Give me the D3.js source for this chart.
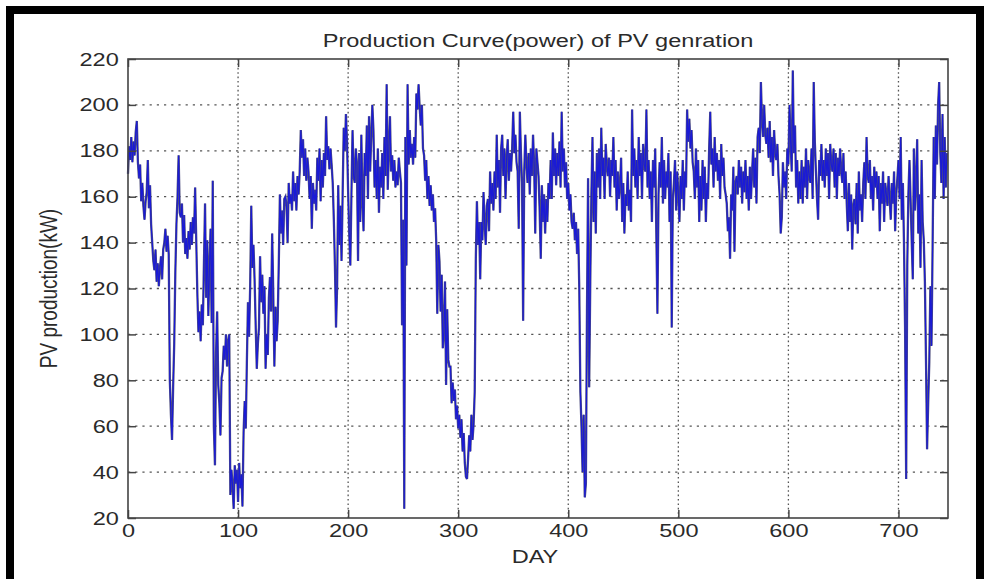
<!DOCTYPE html>
<html>
<head>
<meta charset="utf-8">
<script src="https://cdn.jsdelivr.net/npm/d3@7"></script>
<style>
  html, body { margin: 0; padding: 0; background: #fff; }
  svg { display: block; }
  text { font-family: "Liberation Sans", Arial, Helvetica, sans-serif; fill: #2a2a2a; }
</style>
</head>
<body>
<svg id="chart" width="984" height="579"></svg>
<script>
// ---------- data ----------
const titleText = "Production Curve(power) of PV genration";
const xLabel = "DAY";
const yLabel = "PV production(kW)";
const xTicks = [0, 100, 200, 300, 400, 500, 600, 700];
const yTicks = [20, 40, 60, 80, 100, 120, 140, 160, 180, 200, 220];
const xDomain = [0, 745];
const yDomain = [20, 220];

// daily PV production (kW), day 0 .. 744
const pvProduction = [
170,182,176,186,175,184,178,188,193,175,
168,174,158,166,156,150,158,162,176,155,
165,148,140,132,128,137,123,131,121,129,
134,124,137,140,146,136,143,135,80,65,
54,77,96,127,148,160,178,153,151,157,
140,152,135,142,133,145,137,149,139,151,
144,164,141,118,101,110,97,113,104,131,
157,116,141,108,129,146,105,167,60,43,
92,110,78,70,56,81,84,95,89,100,
86,97,100,30,41,34,24,43,35,41,
27,44,33,39,25,57,71,59,88,114,
99,121,156,129,139,124,104,85,96,103,
134,114,126,109,121,85,100,91,116,125,
110,144,117,86,112,97,106,131,161,144,
154,139,159,160,156,140,166,157,161,154,
171,158,166,154,169,161,171,189,177,185,
169,181,167,177,171,159,169,146,166,157,
163,154,177,167,181,158,176,164,179,169,
195,176,182,172,181,174,166,150,130,103,
121,165,139,156,132,161,190,180,196,184,
162,144,130,161,189,169,166,181,174,132,
179,149,187,159,145,179,169,191,159,195,
171,186,200,189,164,176,159,181,153,173,
164,179,159,186,169,209,163,181,195,171,
178,167,176,164,171,165,177,171,166,104,
150,24,186,130,209,174,189,177,183,174,
186,177,205,198,209,199,191,200,181,178,
167,176,159,169,156,165,154,161,149,155,
141,109,139,132,110,126,94,101,123,78,
111,89,86,86,70,79,71,76,63,69,
59,65,55,63,49,57,44,38,37,46,
56,49,65,54,61,75,133,158,139,149,
124,149,141,162,149,139,156,159,145,171,
157,166,154,171,159,187,164,176,153,181,
187,169,181,159,177,185,167,179,171,181,
197,179,187,175,171,146,197,179,166,106,
171,187,174,166,179,161,181,169,187,174,
144,181,175,169,154,133,165,149,161,144,
159,149,166,159,176,159,188,169,181,165,
179,169,184,164,197,171,181,164,175,159,
166,154,161,149,146,153,141,149,135,146,
120,75,60,40,65,29,35,110,168,77,
123,161,186,149,171,144,179,164,181,159,
190,169,177,159,183,174,169,177,160,176,
169,186,164,176,154,171,159,165,177,149,
166,144,161,156,171,154,163,149,198,169,
181,164,176,159,186,169,179,159,183,174,
171,198,164,176,159,171,149,176,164,181,
144,109,161,175,164,186,157,176,159,171,
164,179,149,171,103,159,166,176,154,171,
161,149,169,159,176,154,171,164,198,184,
194,181,189,175,171,159,181,164,176,149,
169,154,176,159,173,149,166,159,181,197,
174,181,164,186,171,179,167,176,159,183,
169,177,164,161,157,145,151,133,161,154,
173,136,166,169,161,176,164,173,157,171,
162,176,159,169,154,173,159,171,181,164,
177,157,186,190,179,210,194,186,200,187,
183,190,177,193,175,186,169,189,179,176,
183,169,161,144,151,175,164,171,159,181,
174,200,184,171,215,179,191,164,176,157,
171,159,176,157,173,164,181,159,176,169,
166,181,159,210,184,171,159,150,176,169,
183,167,176,164,181,169,179,159,183,174,
171,181,164,179,159,177,169,181,171,166,
179,159,171,157,145,166,149,161,137,156,
159,148,166,144,171,154,161,149,166,175,
159,186,169,166,176,159,169,154,173,164,
171,159,169,145,166,157,171,149,166,161,
156,169,159,150,166,157,171,145,161,168,
176,159,186,150,166,140,103,37,130,161,
176,159,141,124,181,154,166,185,144,161,
129,176,149,141,123,89,50,70,88,121,
95,138,186,159,191,174,200,210,179,166,
196,159,186,164,179
];

// ---------- layout ----------
const W = 984, H = 579;
const plot = { left: 128, right: 948, top: 59, bottom: 518 };
const sx = 1.24;           // horizontal stretch of the text in the reference
const fontSize = 19;

const svg = d3.select("#chart");

// outer black frame
svg.append("rect")
  .attr("x", 10).attr("y", 10)
  .attr("width", W - 14).attr("height", H - 6)
  .attr("fill", "#fff")
  .attr("stroke", "#000")
  .attr("stroke-width", 8);

const x = d3.scaleLinear().domain(xDomain).range([plot.left, plot.right]);
const y = d3.scaleLinear().domain(yDomain).range([plot.bottom, plot.top]);

// grid
const grid = svg.append("g").attr("class", "grid");
grid.selectAll("line.v")
  .data(xTicks.filter(d => d > xDomain[0]))
  .join("line")
  .attr("class", "v")
  .attr("x1", d => x(d)).attr("x2", d => x(d))
  .attr("y1", plot.top).attr("y2", plot.bottom)
  .attr("stroke", "#555").attr("stroke-width", 1.3)
  .attr("stroke-dasharray", "1.6,2.8");
grid.selectAll("line.h")
  .data(yTicks.filter(d => d > yDomain[0] && d < yDomain[1]))
  .join("line")
  .attr("class", "h")
  .attr("x1", plot.left).attr("x2", plot.right)
  .attr("y1", d => y(d)).attr("y2", d => y(d))
  .attr("stroke", "#555").attr("stroke-width", 1.3)
  .attr("stroke-dasharray", "2.2,5");

// data line
const line = d3.line()
  .x((d, i) => x(i))
  .y(d => y(d));

svg.append("path")
  .datum(pvProduction)
  .attr("fill", "none")
  .attr("stroke", "#4e4e7e")
  .attr("stroke-width", 2.3)
  .attr("d", line);
svg.append("path")
  .datum(pvProduction)
  .attr("fill", "none")
  .attr("stroke", "#1a1ad6")
  .attr("stroke-width", 1.1)
  .attr("d", line);

// axes (MATLAB style: ticks inward on all four sides)
const tickLen = 8;
const gx = svg.append("g")
  .attr("transform", `translate(0,${plot.bottom})`)
  .call(d3.axisBottom(x).tickValues(xTicks).tickSizeInner(-tickLen).tickSizeOuter(0).tickPadding(6));
const gxTop = svg.append("g")
  .attr("transform", `translate(0,${plot.top})`)
  .call(d3.axisTop(x).tickValues(xTicks).tickSizeInner(-tickLen).tickSizeOuter(0).tickFormat(""));
const gy = svg.append("g")
  .attr("transform", `translate(${plot.left},0)`)
  .call(d3.axisLeft(y).tickValues(yTicks).tickSizeInner(-tickLen).tickSizeOuter(0).tickPadding(7.4));
const gyRight = svg.append("g")
  .attr("transform", `translate(${plot.right},0)`)
  .call(d3.axisRight(y).tickValues(yTicks).tickSizeInner(-tickLen).tickSizeOuter(0).tickFormat(""));

[gx, gxTop, gy, gyRight].forEach(g => {
  g.select(".domain").remove();
  g.selectAll(".tick line").attr("stroke", "#444").attr("stroke-width", 1.5);
  g.selectAll(".tick text")
    .attr("font-size", fontSize)
    .attr("font-family", "Liberation Sans, Arial, sans-serif")
    .attr("fill", "#2a2a2a")
    .attr("transform", `scale(${sx},1)`);
});

// axes box
svg.append("rect")
  .attr("x", plot.left).attr("y", plot.top)
  .attr("width", plot.right - plot.left).attr("height", plot.bottom - plot.top)
  .attr("fill", "none").attr("stroke", "#444").attr("stroke-width", 1.6);

// title
svg.append("text")
  .attr("transform", `translate(${(plot.left + plot.right) / 2},47) scale(${sx},1)`)
  .attr("text-anchor", "middle")
  .attr("font-size", fontSize)
  .text(titleText);

// x label
svg.append("text")
  .attr("transform", `translate(535,563) scale(${sx},1)`)
  .attr("text-anchor", "middle")
  .attr("font-size", fontSize)
  .text(xLabel);

// y label
svg.append("text")
  .attr("transform", `translate(57,${(plot.top + plot.bottom) / 2}) scale(${sx},1) rotate(-90)`)
  .attr("text-anchor", "middle")
  .attr("font-size", fontSize)
  .text(yLabel);
</script>
</body>
</html>
